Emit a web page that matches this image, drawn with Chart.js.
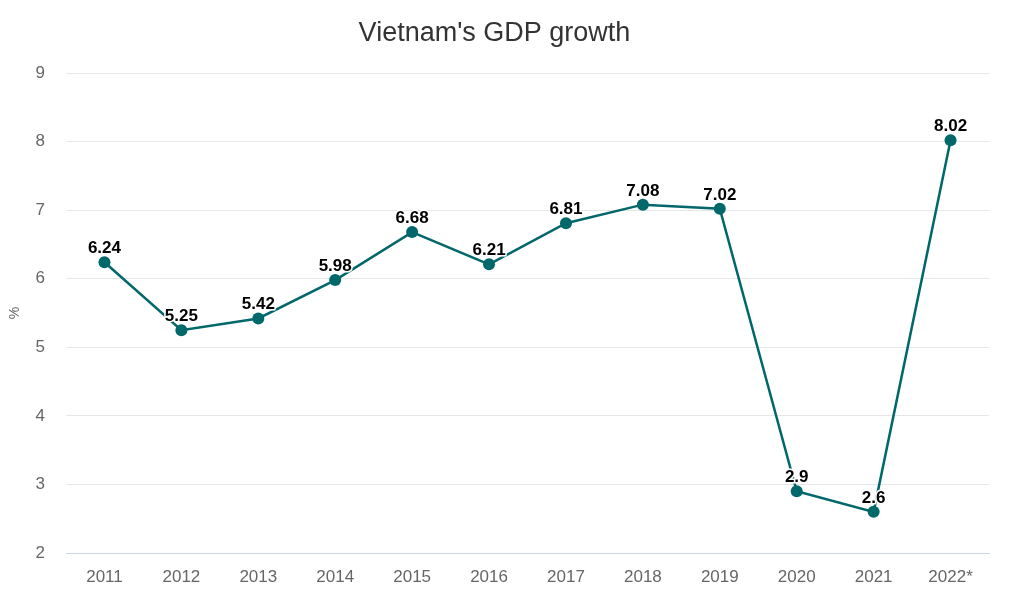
<!DOCTYPE html>
<html>
<head>
<meta charset="utf-8">
<script src="https://cdn.jsdelivr.net/npm/chart.js@4.4.0/dist/chart.umd.min.js"></script>
<style>
html,body{margin:0;padding:0;background:#fff;}
#wrap{width:1024px;height:605px;position:relative;}
</style>
</head>
<body>
<div id="wrap"><canvas id="c" width="1024" height="605"></canvas></div>
<script>
const categories = ['2011','2012','2013','2014','2015','2016','2017','2018','2019','2020','2021','2022*'];
const growth = [6.24, 5.25, 5.42, 5.98, 6.68, 6.21, 6.81, 7.08, 7.02, 2.9, 2.6, 8.02];
const yTicks = [2, 3, 4, 5, 6, 7, 8, 9];
const titleText = "Vietnam's GDP growth";
const yTitle = '%';

const FONT = '"Liberation Sans", Arial, sans-serif';

const labelPlugin = {
  id: 'pointLabels',
  afterDatasetsDraw(chart) {
    const ctx = chart.ctx;
    const meta = chart.getDatasetMeta(0);
    ctx.save();
    ctx.font = 'bold 17px ' + FONT;
    ctx.textAlign = 'center';
    ctx.textBaseline = 'alphabetic';
    ctx.lineJoin = 'round';
    meta.data.forEach((pt, i) => {
      const txt = String(growth[i]);
      const x = pt.x, y = pt.y - 9;
      ctx.strokeStyle = '#ffffff';
      ctx.lineWidth = 3;
      ctx.strokeText(txt, x, y);
      ctx.fillStyle = '#000000';
      ctx.fillText(txt, x, y);
    });
    ctx.restore();
  }
};

new Chart(document.getElementById('c'), {
  type: 'line',
  data: {
    labels: categories,
    datasets: [{
      data: growth,
      borderColor: '#00676b',
      backgroundColor: '#00676b',
      borderWidth: 2.5,
      pointRadius: 6,
      pointHoverRadius: 6,
      pointBackgroundColor: '#00676b',
      pointBorderWidth: 0,
      tension: 0,
      fill: false
    }]
  },
  options: {
    responsive: false,
    animation: false,
    devicePixelRatio: 1,
    layout: { padding: { left: 0, right: 35, top: 0, bottom: 0 } },
    plugins: {
      legend: { display: false },
      tooltip: { enabled: false },
      title: {
        display: true,
        text: titleText,
        color: '#333333',
        font: { family: FONT, size: 27, weight: 'normal' },
        padding: { top: 17, bottom: 23.6 }
      }
    },
    scales: {
      x: {
        offset: true,
        grid: { display: false, drawTicks: false },
        border: { display: true, color: '#ccd6eb', width: 1 },
        ticks: {
          color: '#666666',
          font: { family: FONT, size: 17 },
          padding: 14,
          maxRotation: 0
        },
        afterFit(scale) { scale.height = 52; }
      },
      y: {
        min: 2,
        max: 9,
        afterBuildTicks(scale) { scale.ticks = yTicks.map(v => ({ value: v })); },
        grid: { color: '#e6e6e6', drawTicks: false, lineWidth: 1 },
        border: { display: false },
        ticks: {
          color: '#666666',
          font: { family: FONT, size: 17 },
          padding: 21
        },
        title: {
          display: true,
          text: yTitle,
          color: '#666666',
          font: { family: FONT, size: 14 },
          padding: { top: 7, bottom: 0 }
        },
        afterFit(scale) { scale.width = 66; }
      }
    }
  },
  plugins: [labelPlugin]
});
</script>
</body>
</html>
